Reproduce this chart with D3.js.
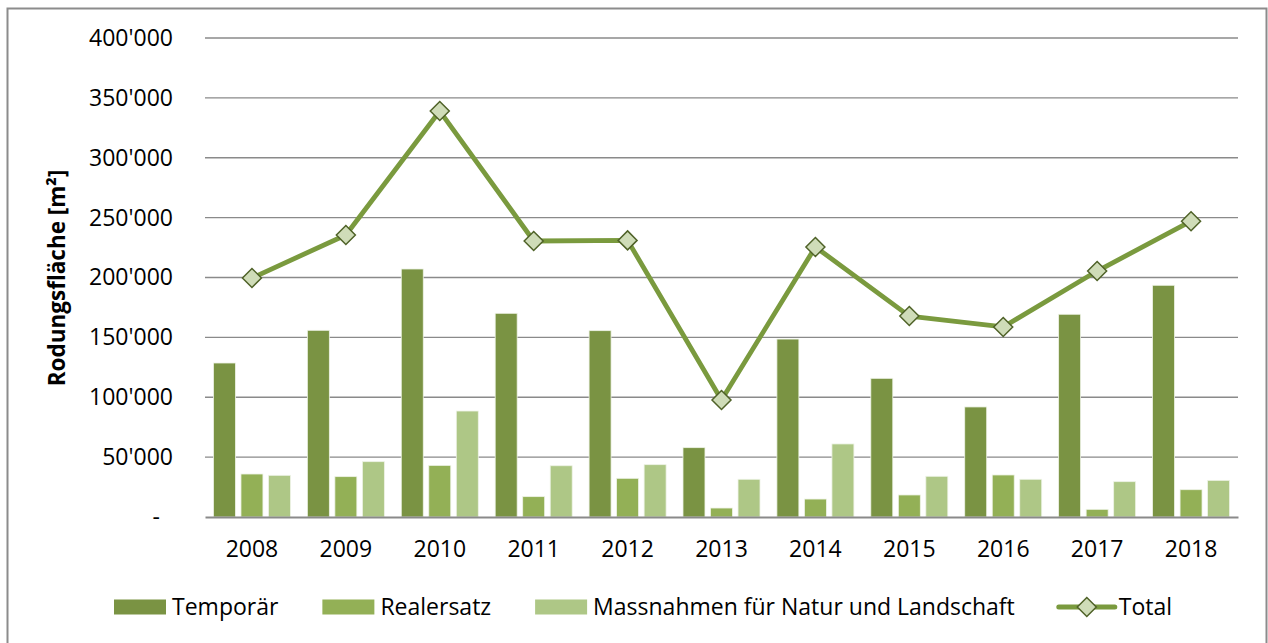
<!DOCTYPE html>
<html>
<head>
<meta charset="utf-8">
<script src="https://cdn.jsdelivr.net/npm/d3@7"></script>
<style>
  body { margin: 0; background: #fff; }
  text { font-family: "Open Sans", sans-serif; fill: #000; }
</style>
</head>
<body>
<div id="chart"></div>
<script>
// Rodungsfläche per year (m²)
var years = ["2008", "2009", "2010", "2011", "2012", "2013", "2014", "2015", "2016", "2017", "2018"];
var temporaer = [128600, 155900, 207100, 170100, 155600, 57900, 148600, 115800, 91900, 169300, 193500];
var realersatz = [35900, 33700, 43100, 17000, 32300, 7500, 15000, 18400, 35100, 6400, 22800];
var massnahmen = [34800, 46200, 88500, 42800, 43700, 31500, 61000, 34000, 31500, 29500, 30600];
var total = [199600, 235500, 339000, 230500, 231000, 97700, 225500, 167800, 158700, 205400, 247000];
var yTicks = [0, 50000, 100000, 150000, 200000, 250000, 300000, 350000, 400000];

var seriesNames = ["Temporär", "Realersatz", "Massnahmen für Natur und Landschaft"];
var seriesColors = ["#7a9343", "#93b056", "#aec786"];
var lineColor = "#7a9a3e";

var width = 1268, height = 643;
var margin = {left: 205, right: 30, top: 38, bottom: 126};

var svg = d3.select("#chart")
    .append("svg")
    .attr("width", width)
    .attr("height", height);

// outer frame (bottom edge is cut off in the original)
svg.append("path")
    .attr("d", "M7.5,643 V8.5 H1266.5 V643")
    .attr("fill", "none")
    .attr("stroke", "#8c8c8c")
    .attr("stroke-width", 2);

var x = d3.scaleBand()
    .domain(years)
    .range([margin.left, width - margin.right]);

var y = d3.scaleLinear()
    .domain([0, 400000])
    .range([height - margin.bottom, margin.top]);

var fmt = function(v) {
    if (v === 0) return "-";
    return d3.format(",")(v).replace(/,/g, "'");
};

// gridlines
svg.append("g")
    .selectAll("line")
    .data(yTicks.slice(1))
    .enter().append("line")
    .attr("x1", margin.left)
    .attr("x2", width - margin.right)
    .attr("y1", function(d) { return y(d); })
    .attr("y2", function(d) { return y(d); })
    .attr("stroke", "#8a8a8a")
    .attr("stroke-width", 1.3);

// y axis labels
var yAxis = d3.axisLeft(y)
    .tickValues(yTicks)
    .tickFormat(fmt)
    .tickSize(0)
    .tickPadding(32);
var gy = svg.append("g")
    .attr("transform", "translate(" + margin.left + ",0)")
    .call(yAxis);
gy.select(".domain").remove();
gy.selectAll("text")
    .style("font-size", "23px")
    .style("font-family", "'Open Sans', sans-serif");
// the zero label "-" sits a bit left, like excel's accounting format
gy.selectAll(".tick text")
    .filter(function(d) { return d === 0; })
    .attr("dx", -13);

// bars
var bw = x.bandwidth() * 0.234;
var gap = x.bandwidth() * 0.059;
var inner = d3.scaleBand()
    .domain([0, 1, 2])
    .range([0, 3 * bw + 2 * gap])
    .paddingInner(gap / (bw + gap));
var offset = (x.bandwidth() - (3 * bw + 2 * gap)) / 2;

var seriesData = [temporaer, realersatz, massnahmen];
seriesData.forEach(function(vals, s) {
    svg.append("g")
        .selectAll("rect")
        .data(vals)
        .enter().append("rect")
        .attr("x", function(d, i) { return x(years[i]) + offset + inner(s); })
        .attr("width", inner.bandwidth())
        .attr("y", function(d) { return y(d); })
        .attr("height", function(d) { return y(0) - y(d); })
        .attr("fill", seriesColors[s])
        .attr("stroke", "#eef3e6")
        .attr("stroke-width", 0.8);
});

// x axis
var xAxis = d3.axisBottom(x).tickSize(0).tickPadding(24);
var gx = svg.append("g")
    .attr("transform", "translate(0," + y(0) + ")")
    .call(xAxis);
gx.select(".domain")
    .attr("stroke", "#8a8a8a")
    .attr("stroke-width", 2);
gx.selectAll("text")
    .style("font-size", "23px")
    .style("font-family", "'Open Sans', sans-serif");

// total line
var line = d3.line()
    .x(function(d, i) { return x(years[i]) + x.bandwidth() / 2; })
    .y(function(d) { return y(d); });

svg.append("path")
    .datum(total)
    .attr("d", line)
    .attr("fill", "none")
    .attr("stroke", lineColor)
    .attr("stroke-width", 4.8)
    .attr("stroke-linejoin", "round");

var diamond = "M0,-9.5 L9.5,0 L0,9.5 L-9.5,0 Z";
svg.append("g")
    .selectAll("path")
    .data(total)
    .enter().append("path")
    .attr("d", diamond)
    .attr("transform", function(d, i) {
        return "translate(" + (x(years[i]) + x.bandwidth() / 2) + "," + y(d) + ")";
    })
    .attr("fill", "#cfdcb8")
    .attr("stroke", "#4f6228")
    .attr("stroke-width", 1.5);

// y axis title
svg.append("text")
    .attr("transform", "translate(65,278) rotate(-90)")
    .attr("text-anchor", "middle")
    .style("font-size", "22.5px")
    .style("font-weight", "bold")
    .text("Rodungsfläche [m²]");

// legend
var legend = svg.append("g");
var lx = 114, ly = 607;
seriesNames.forEach(function(name, s) {
    legend.append("rect")
        .attr("x", lx).attr("y", ly - 7.5)
        .attr("width", 52).attr("height", 15)
        .attr("fill", seriesColors[s]);
    var t = legend.append("text")
        .attr("x", lx + 58).attr("y", ly + 8)
        .style("font-size", "23px")
        .text(name);
    lx += 58 + t.node().getComputedTextLength() + 44;
});
legend.append("line")
    .attr("x1", lx).attr("x2", lx + 56)
    .attr("y1", ly).attr("y2", ly)
    .attr("stroke", lineColor)
    .attr("stroke-width", 5)
    .attr("stroke-linecap", "round");
legend.append("path")
    .attr("d", diamond)
    .attr("transform", "translate(" + (lx + 28) + "," + ly + ")")
    .attr("fill", "#cfdcb8")
    .attr("stroke", "#4f6228")
    .attr("stroke-width", 1.5);
legend.append("text")
    .attr("x", lx + 60).attr("y", ly + 8)
    .style("font-size", "23px")
    .text("Total");
</script>
</body>
</html>
